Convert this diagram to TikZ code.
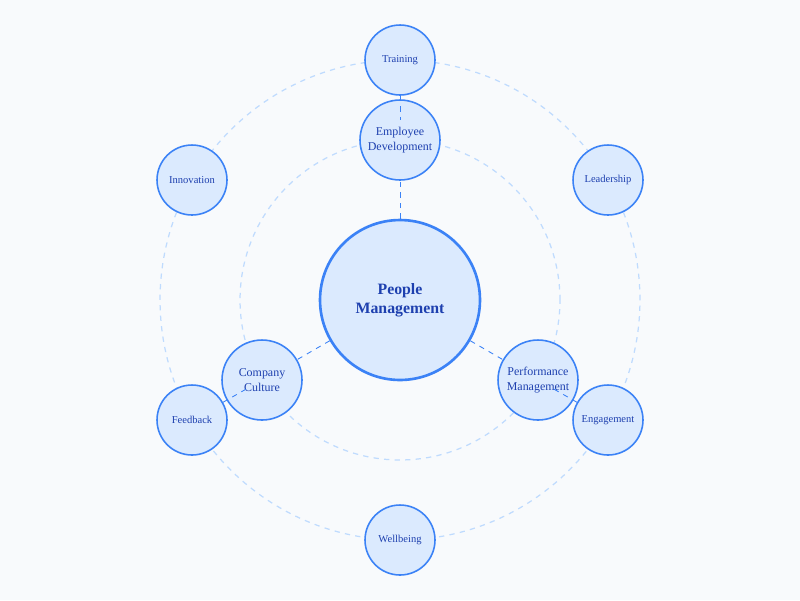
\documentclass[tikz,border=0pt]{standalone}
\usepackage{fontspec}
\setmainfont{Liberation Serif}
\usepackage{tikz}
\definecolor{bg}{HTML}{F8FAFC}
\definecolor{nodefill}{HTML}{DBEAFE}
\definecolor{nodeline}{HTML}{3B82F6}
\definecolor{ringline}{HTML}{BFDBFE}
\definecolor{txt}{HTML}{1E40AF}
\tikzset{
  core/.style={circle, draw=nodeline, fill=nodefill, line width=1.5pt, minimum size=3.2cm, inner sep=0pt, align=center, text=txt, font=\fontsize{9}{11}\selectfont\bfseries},
  area/.style={circle, draw=nodeline, fill=nodefill, line width=0.9pt, minimum size=1.6cm, inner sep=0pt, align=center, text=txt, font=\fontsize{6.8}{8.2}\selectfont},
  topic/.style={circle, draw=nodeline, fill=nodefill, line width=0.9pt, minimum size=1.4cm, inner sep=0pt, align=center, text=txt, font=\fontsize{6}{7}\selectfont},
  ring/.style={ringline, dashed, line width=0.7pt},
  link/.style={nodeline, dashed, line width=0.5pt}
}
\begin{document}
\begin{tikzpicture}[x=0.02cm, y=-0.02cm]
\fill[bg] (0,0) rectangle (800,600);
\draw[ring] (400,300) circle[radius=3.2cm];
\draw[ring] (400,300) circle[radius=4.8cm];
% main circle and areas
\node[core] (pm) at (400,300) {People\\Management};
\node[area] (dev) at (400,140) {Employee\\Development};
\node[area] (cult) at (262,380) {Company\\Culture};
\node[area] (perf) at (538,380) {Performance\\Management};
% outer topics
\node[topic] (train) at (400,60) {Training};
\node[topic] (innov) at (192,180) {Innovation};
\node[topic] (lead) at (608,180) {Leadership};
\node[topic] (feed) at (192,420) {Feedback};
\node[topic] (engage) at (608,420) {Engagement};
\node[topic] (well) at (400,540) {Wellbeing};
% links
\draw[link] (pm) -- (dev);
\draw[link] (pm) -- (cult);
\draw[link] (pm) -- (perf);
\draw[link, shorten >=0.4cm] (train) -- (dev.center);
\draw[link, shorten >=0.3cm] (feed) -- (cult.center);
\draw[link, shorten >=0.3cm] (engage) -- (perf.center);
\end{tikzpicture}
\end{document}
